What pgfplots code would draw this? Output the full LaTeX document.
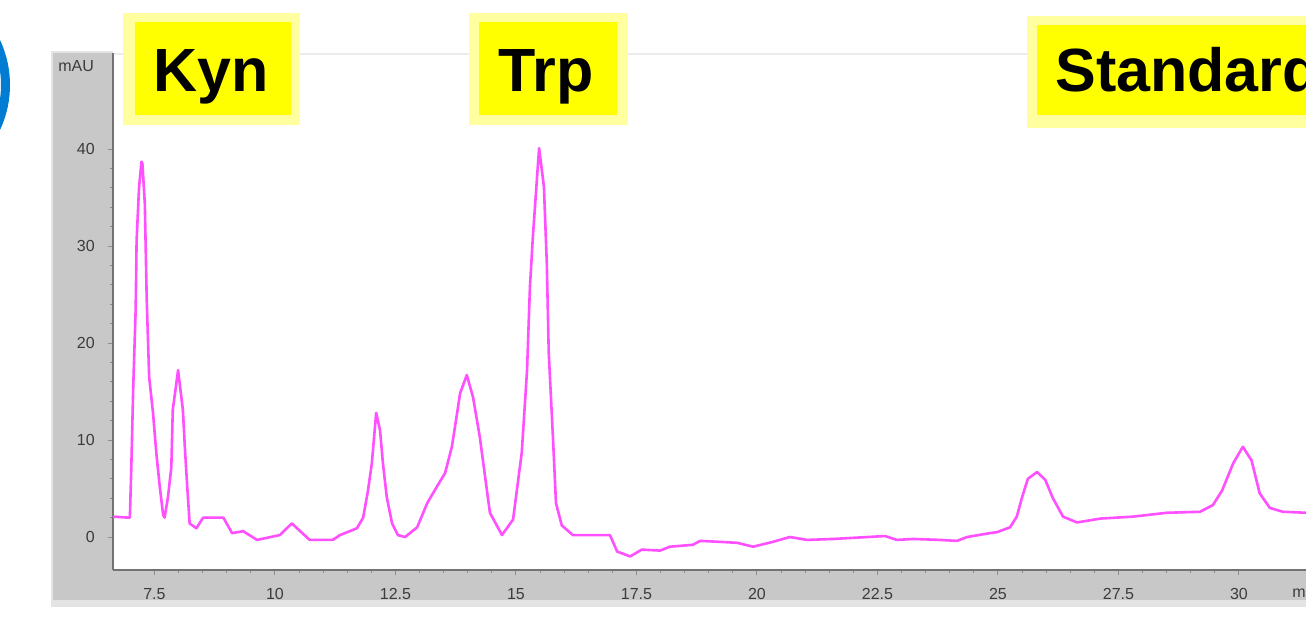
\documentclass[border=0pt]{standalone}
\usepackage{pgfplots}
\pgfplotsset{compat=1.18}
\usepackage{fontspec}
\setmainfont{Liberation Sans}
\definecolor{trace}{RGB}{255,80,255}
\definecolor{framegray}{RGB}{200,200,200}
\definecolor{frameedge}{RGB}{228,228,228}
\definecolor{topline}{RGB}{236,236,236}
\definecolor{labyel}{RGB}{255,255,0}
\definecolor{labedge}{RGB}{255,255,160}
\definecolor{ringblue}{RGB}{0,125,210}
\definecolor{ticktext}{RGB}{60,60,60}
\newcommand{\pp}[2]{({0.5*#1pt},{0.5*(624-#2)*1pt})}
\begin{document}
\begin{tikzpicture}
\useasboundingbox (0,0) rectangle (653pt,312pt);
\clip (0,0) rectangle (653pt,312pt);
% instrument frame
\fill[frameedge] \pp{51}{51} rectangle \pp{1340}{607};
\fill[framegray] \pp{53}{53} rectangle \pp{1340}{600};
\fill[white] \pp{113}{50} rectangle \pp{1340}{570};
\draw[topline, line width=0.8pt] \pp{113}{54} -- \pp{1340}{54};
% blue ring at the left edge
\draw[ringblue, line width=4.5pt] \pp{-96}{85} circle (50.75pt);
\begin{axis}[
  at={(56.5pt,27pt)}, anchor=south west,
  scale only axis, width=601.55pt, height=258.5pt,
  xmin=6.64, xmax=31.6, ymin=-3.4, ymax=49.9,
  axis lines*=left,
  axis line style={-, draw=black!55, line width=0.7pt},
  tick align=outside,
  major tick length=2.6pt, minor tick length=1.6pt,
  tick style={draw=black!45, line width=0.5pt},
  xtick={7.5,10,12.5,15,17.5,20,22.5,25,27.5,30},
  xticklabels={7.5,10,12.5,15,17.5,20,22.5,25,27.5,30},
  ytick={0,10,20,30,40},
  minor x tick num=4, minor y tick num=4,
  /pgf/number format/assume math mode=true,
  tick label style={font=\fontsize{8}{9}\selectfont, text=ticktext},
  xticklabel style={yshift=-3pt},
  yticklabel style={xshift=-3pt},
]
\addplot[trace, line width=1.3pt, line join=round, no markers] table {
x y
6.64 2.1
6.95 2.0
6.99 2.0
7.02 7.2
7.06 15.5
7.11 23.4
7.13 30.6
7.18 36.0
7.23 38.7
7.25 38.5
7.30 34.4
7.34 24.4
7.39 16.5
7.47 12.8
7.54 8.6
7.61 5.2
7.68 2.3
7.71 2.0
7.78 4.1
7.85 7.2
7.88 13.1
7.99 17.2
8.09 13.1
8.13 9.3
8.18 5.2
8.23 1.4
8.37 0.9
8.51 2.0
8.93 2.0
9.11 0.4
9.34 0.6
9.63 -0.3
10.10 0.2
10.35 1.4
10.72 -0.3
11.20 -0.3
11.35 0.2
11.70 0.9
11.83 2.0
11.93 4.8
12.01 7.6
12.10 12.8
12.18 11.0
12.24 7.6
12.32 4.1
12.43 1.4
12.55 0.2
12.70 0.0
12.95 1.0
13.16 3.5
13.36 5.2
13.53 6.6
13.67 9.3
13.78 12.8
13.84 14.8
13.98 16.7
14.11 14.4
14.25 10.3
14.36 6.2
14.46 2.5
14.71 0.2
14.94 1.8
15.12 8.7
15.23 17.2
15.29 25.8
15.35 30.9
15.48 40.1
15.58 36.1
15.64 28.2
15.68 19.0
15.77 10.0
15.83 3.5
15.95 1.2
16.18 0.2
16.80 0.2
16.95 0.2
17.10 -1.5
17.37 -2.0
17.61 -1.3
17.99 -1.4
18.19 -1.0
18.67 -0.8
18.82 -0.4
19.23 -0.5
19.59 -0.6
19.92 -1.0
20.33 -0.5
20.68 0.0
21.04 -0.3
21.58 -0.2
22.66 0.1
22.90 -0.3
23.24 -0.2
23.80 -0.3
24.15 -0.4
24.36 0.0
24.83 0.4
24.98 0.5
25.25 1.0
25.39 2.1
25.50 4.1
25.62 6.0
25.81 6.7
25.98 5.9
26.14 4.0
26.35 2.1
26.64 1.5
27.12 1.9
27.80 2.1
28.51 2.5
29.19 2.6
29.46 3.3
29.65 4.8
29.88 7.6
30.08 9.3
30.26 7.9
30.43 4.5
30.64 3.0
30.91 2.6
31.39 2.5
};
\end{axis}
% axis titles
\node[anchor=west, inner sep=0pt, font=\fontsize{8}{9}\selectfont, text=ticktext] at \pp{58}{66} {mAU};
\node[anchor=west, inner sep=0pt, font=\fontsize{8}{9}\selectfont, text=ticktext] at \pp{1292}{592} {min};
% peak labels
\fill[labedge] \pp{123}{13} rectangle \pp{300}{125};
\fill[labyel] \pp{135}{22} rectangle \pp{291}{115};
\node[anchor=base west, inner sep=0pt, font=\fontsize{30.5}{32}\selectfont\bfseries] at \pp{153.5}{92} {Kyn};
\fill[labedge] \pp{469}{13} rectangle \pp{628}{125};
\fill[labyel] \pp{479}{22} rectangle \pp{617}{115};
\node[anchor=base west, inner sep=0pt, font=\fontsize{30.5}{32}\selectfont\bfseries] at \pp{498.5}{92} {Trp};
\fill[labedge] \pp{1027}{16} rectangle \pp{1340}{128};
\fill[labyel] \pp{1037}{25} rectangle \pp{1340}{115};
\node[anchor=base west, inner sep=0pt, font=\fontsize{30.5}{32}\selectfont\bfseries] at \pp{1055}{92} {Standard};
\end{tikzpicture}
\end{document}
